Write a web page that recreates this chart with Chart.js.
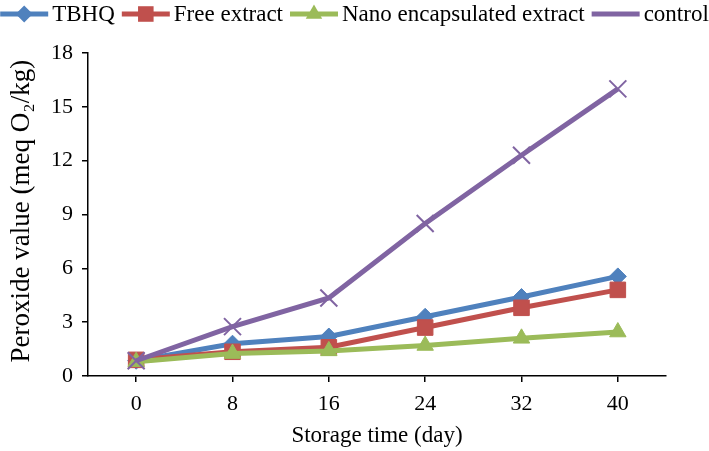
<!DOCTYPE html>
<html>
<head>
<meta charset="utf-8">
<script src="https://cdn.jsdelivr.net/npm/chart.js@4"></script>
<style>
  html, body { margin: 0; padding: 0; background: #fff; }
  #wrap { width: 709px; height: 451px; }
</style>
</head>
<body>
<div id="wrap"><canvas id="chart" width="709" height="451"></canvas></div>
<script>
// Storage days (x axis)
const days = ['0', '8', '16', '24', '32', '40'];

// Peroxide values
const tbhq = [0.85, 1.8, 2.2, 3.3, 4.4, 5.55];
const freeExtract = [0.9, 1.35, 1.6, 2.7, 3.8, 4.8];
const nanoExtract = [0.8, 1.25, 1.4, 1.7, 2.1, 2.45];
const control = [0.85, 2.75, 4.35, 8.5, 12.3, 16.0];

const serif = '"Liberation Serif", "Times New Roman", serif';

// Draws the Excel style legend (line + marker + text) across the top
const topLegend = {
    id: 'topLegend',
    afterDraw(chart) {
        const ctx = chart.ctx;
        const lineLen = 48, gap = 4, itemGap = 7, y = 14;
        ctx.save();
        ctx.font = '23px ' + serif;
        const items = chart.data.datasets.map(ds => ({ ds, w: ctx.measureText(ds.label).width }));
        const total = items.reduce((s, it) => s + lineLen + gap + it.w, 0) + itemGap * (items.length - 1);
        let x = (chart.width - total) / 2;
        items.forEach(({ ds, w }) => {
            ctx.strokeStyle = ds.borderColor;
            ctx.lineWidth = ds.borderWidth;
            ctx.beginPath();
            ctx.moveTo(x, y);
            ctx.lineTo(x + lineLen, y);
            ctx.stroke();
            ctx.fillStyle = ds.pointBackgroundColor;
            ctx.strokeStyle = ds.pointBorderColor;
            ctx.lineWidth = ds.pointBorderWidth;
            Chart.helpers.drawPoint(ctx, { pointStyle: ds.pointStyle, radius: ds.pointRadius, rotation: 0 }, x + lineLen / 2, y);
            ctx.fillStyle = '#000';
            ctx.textBaseline = 'middle';
            ctx.textAlign = 'left';
            ctx.fillText(ds.label, x + lineLen + gap, y + 1);
            x += lineLen + gap + w + itemGap;
        });
        ctx.restore();
    }
};

const makeSeries = (label, data, color, style, radius, pbw, order) => ({
    label: label,
    data: data,
    borderColor: color,
    backgroundColor: color,
    borderWidth: 5,
    pointStyle: style,
    pointRadius: radius,
    pointHoverRadius: radius,
    pointBackgroundColor: color,
    pointBorderColor: color,
    pointBorderWidth: pbw,
    tension: 0,
    order: order
});

new Chart(document.getElementById('chart'), {
    type: 'line',
    data: {
        labels: days,
        datasets: [
            makeSeries('TBHQ', tbhq, '#4F81BD', 'rectRot', 8.5, 1, 4),
            makeSeries('Free extract', freeExtract, '#C0504D', 'rect', 11, 1, 3),
            makeSeries('Nano encapsulated extract', nanoExtract, '#9BBB59', 'triangle', 9.5, 1, 2),
            makeSeries('control', control, '#8064A2', 'crossRot', 12, 2, 1)
        ]
    },
    options: {
        responsive: false,
        animation: false,
        layout: { padding: { top: 53, right: 43, left: 0, bottom: 0 } },
        plugins: {
            legend: { display: false },
            tooltip: { enabled: false }
        },
        scales: {
            x: {
                offset: true,
                afterFit: (scale) => { scale.height = 75; },
                grid: { drawOnChartArea: false, drawTicks: true, tickLength: 6, color: '#000', lineWidth: 1.5 },
                border: { color: '#000', width: 1.5 },
                ticks: { color: '#000', padding: 9, font: { family: serif, size: 22 } },
                title: {
                    display: true,
                    text: 'Storage time (day)',
                    color: '#000',
                    padding: { top: 0, bottom: 1 },
                    font: { family: serif, size: 23 }
                }
            },
            y: {
                min: 0,
                max: 18,
                afterFit: (scale) => { scale.width = 88; },
                grid: { drawOnChartArea: false, drawTicks: true, tickLength: 6, color: '#000', lineWidth: 1.5 },
                border: { color: '#000', width: 1.5 },
                ticks: { stepSize: 3, color: '#000', padding: 9, font: { family: serif, size: 22 } },
                title: {
                    display: true,
                    // leading space nudges the rotated title up like the original
                    text: ' Peroxide value (meq O₂/kg)',
                    color: '#000',
                    padding: { top: 6, bottom: 0 },
                    font: { family: serif, size: 27 }
                }
            }
        }
    },
    plugins: [topLegend]
});
</script>
</body>
</html>
